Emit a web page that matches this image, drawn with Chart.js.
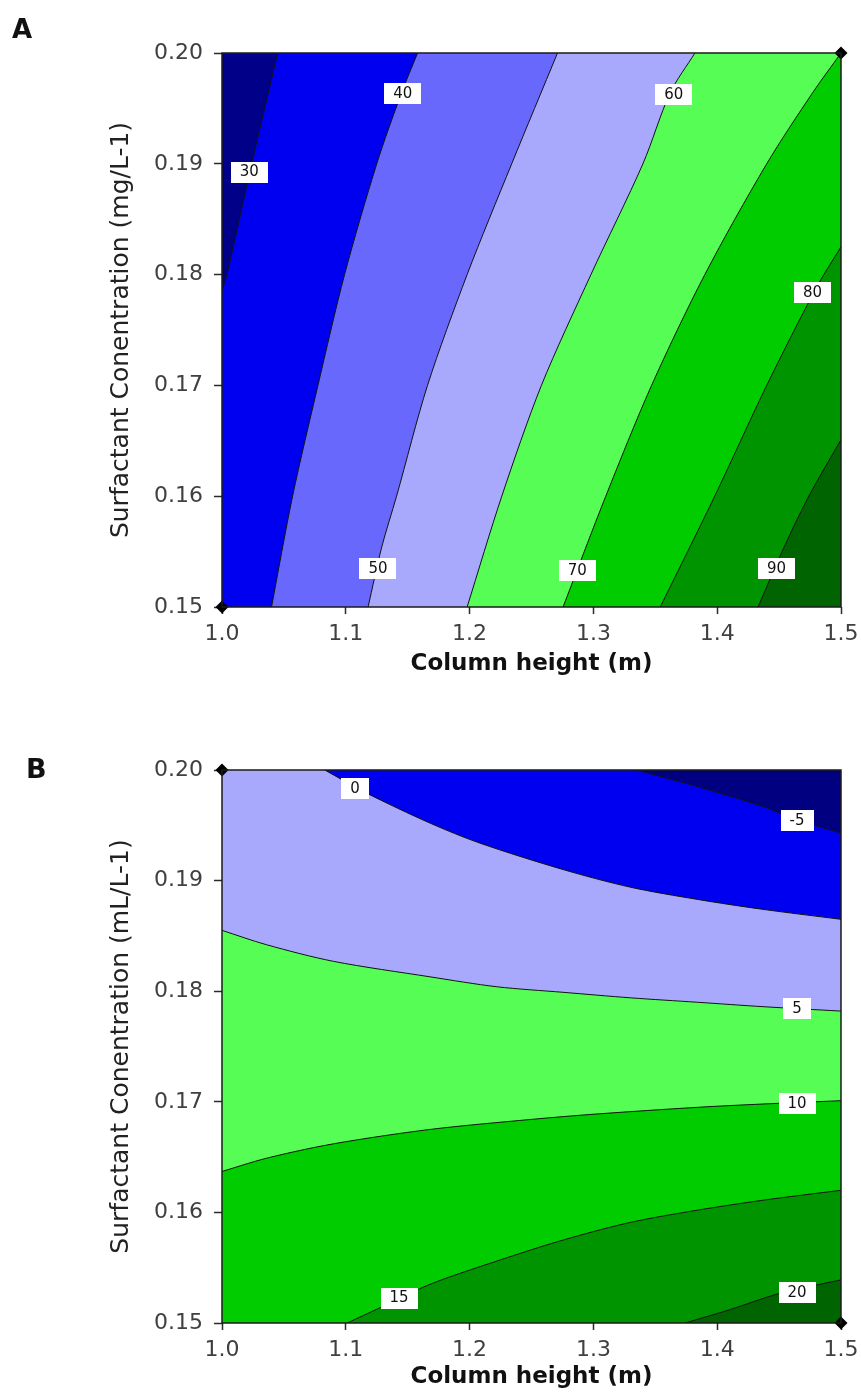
<!DOCTYPE html>
<html>
<head>
<meta charset="utf-8">
<script src="https://cdn.jsdelivr.net/npm/chart.js@4.4.1/dist/chart.umd.min.js"></script>
<style>
  html, body { margin: 0; padding: 0; background: #fff; }
  body { width: 861px; height: 1394px; position: relative; overflow: hidden; font-family: 'DejaVu Sans', Verdana, sans-serif; }
  canvas { position: absolute; left: 0; }
  .tag { position: absolute; line-height: 1; color: #111; font-weight: bold; }
</style>
</head>
<body>
<canvas id="chartA" style="top:0" width="861" height="690"></canvas>
<canvas id="chartB" style="top:690px" width="861" height="704"></canvas>
<div class="tag" style="left:12px; top:16px; font-size:26px;">A</div>
<div class="tag" style="left:26px; top:755px; font-size:27px;">B</div>
<script>
const heightTicks = [1.0, 1.1, 1.2, 1.3, 1.4, 1.5];
const heightTickLabels = ['1.0', '1.1', '1.2', '1.3', '1.4', '1.5'];
const concTicks = [0.15, 0.16, 0.17, 0.18, 0.19, 0.20];
const concTickLabels = ['0.15', '0.16', '0.17', '0.18', '0.19', '0.20'];

// Panel A contours [height, concentration], each traced from the top/right edge downwards
const levelsA = [30, 40, 50, 60, 70, 80, 90];
const a30 = [[1.045, 0.20], [1.024, 0.19], [1.004, 0.18], [1.0, 0.1786]];
const a40 = [[1.158, 0.20], [1.145, 0.1964], [1.125, 0.19], [1.099, 0.18], [1.0775, 0.17], [1.057, 0.16], [1.040, 0.15]];
const a50 = [[1.271, 0.20], [1.234, 0.19], [1.198, 0.18], [1.166, 0.17], [1.141, 0.16], [1.129, 0.1554], [1.118, 0.15]];
const a60 = [[1.382, 0.20], [1.362, 0.1964], [1.340, 0.19], [1.298, 0.18], [1.258, 0.17], [1.226, 0.16], [1.198, 0.15]];
const a70 = [[1.5, 0.20], [1.477, 0.1964], [1.440, 0.19], [1.390, 0.18], [1.347, 0.17], [1.310, 0.16], [1.2755, 0.15]];
const a80 = [[1.5, 0.1825], [1.481, 0.1790], [1.440, 0.17], [1.398, 0.16], [1.354, 0.15]];
const a90 = [[1.5, 0.1651], [1.474, 0.16], [1.454, 0.1554], [1.433, 0.15]];
const labelAtA = [[1.022, 0.1893], [1.146, 0.1964], [1.126, 0.1535], [1.365, 0.1963], [1.287, 0.1533], [1.477, 0.1784], [1.448, 0.1535]];
const bandColorsA = ['#000088', '#0000f0', '#6868fc', '#a8a8fc', '#55fd55', '#00cc00', '#009400', '#006400'];
const designA = [[1.0, 0.15], [1.5, 0.20]];

// Panel B contours, each traced from left to right
const levelsB = [-5, 0, 5, 10, 15, 20];
const bm5 = [[1.335, 0.20], [1.384, 0.1985], [1.437, 0.1967], [1.464, 0.1955], [1.5, 0.1943]];
const b0 = [[1.083, 0.20], [1.117, 0.1979], [1.168, 0.1952], [1.208, 0.1934], [1.2755, 0.1910], [1.330, 0.1894], [1.384, 0.1883], [1.437, 0.1874], [1.5, 0.1865]];
const b5 = [[1.0, 0.1855], [1.036, 0.1842], [1.090, 0.1827], [1.168, 0.1813], [1.222, 0.1804], [1.2755, 0.1799], [1.330, 0.1794], [1.384, 0.1790], [1.437, 0.1786], [1.5, 0.1782]];
const b10 = [[1.0, 0.1637], [1.036, 0.1649], [1.090, 0.1662], [1.168, 0.1675], [1.249, 0.1684], [1.303, 0.1689], [1.384, 0.1695], [1.437, 0.1698], [1.5, 0.1701]];
const b15 = [[1.101, 0.15], [1.130, 0.1515], [1.168, 0.1535], [1.222, 0.1556], [1.2755, 0.1575], [1.330, 0.1591], [1.384, 0.1602], [1.437, 0.1611], [1.5, 0.1620]];
const b20 = [[1.374, 0.15], [1.410, 0.1512], [1.451, 0.1527], [1.5, 0.1539]];
const labelAtB = [[1.4645, 0.1955], [1.1074, 0.1984], [1.4645, 0.1785], [1.4645, 0.1699], [1.143, 0.1523], [1.4645, 0.1528]];
const bandColorsB = ['#000080', '#0000f0', '#a8a8fc', '#55fd55', '#00cc00', '#009400', '#006400'];
const designB = [[1.0, 0.20], [1.5, 0.15]];

const X_MIN = heightTicks[0], X_MAX = heightTicks[heightTicks.length - 1];
const Y_MIN = concTicks[0], Y_MAX = concTicks[concTicks.length - 1];
const corners = [[X_MIN, Y_MIN], [X_MAX, Y_MIN], [X_MAX, Y_MAX], [X_MIN, Y_MAX]];
const SMOOTH = 0.3;

Chart.defaults.font.family = "'DejaVu Sans', Verdana, sans-serif";

// position of a frame point, counted anticlockwise from the bottom-left corner (0..4)
function edgePos([x, y]) {
  const eps = 1e-9;
  if (Math.abs(y - Y_MIN) < eps) return (x - X_MIN) / (X_MAX - X_MIN);
  if (Math.abs(x - X_MAX) < eps) return 1 + (y - Y_MIN) / (Y_MAX - Y_MIN);
  if (Math.abs(y - Y_MAX) < eps) return 2 + (X_MAX - x) / (X_MAX - X_MIN);
  return 3 + (Y_MAX - y) / (Y_MAX - Y_MIN);
}

// closes a contour into the area lying on its left, running anticlockwise round the frame.
// Doubled vertices keep the frame part straight when the line is drawn with tension.
function regionLeftOf(path) {
  const pts = path.slice();
  pts.push(path[path.length - 1]);
  const t = edgePos(path[path.length - 1]);
  let stop = edgePos(path[0]);
  if (stop <= t) stop += 4;
  for (let k = Math.floor(t) + 1; k < stop; k++) pts.push(corners[k % 4], corners[k % 4]);
  return pts.map(([x, y]) => ({x, y}));
}

const plotFrame = {
  id: 'plotFrame',
  afterDatasetsDraw(chart) {
    const {ctx, chartArea: a} = chart;
    ctx.save();
    ctx.strokeStyle = '#1b1b1b';
    ctx.lineWidth = 1.5;
    ctx.strokeRect(a.left, a.top, a.right - a.left, a.bottom - a.top);
    ctx.restore();
  }
};

const contourLabels = {
  id: 'contourLabels',
  afterDatasetsDraw(chart, args, opts) {
    const {ctx, scales: {x, y}} = chart;
    ctx.save();
    ctx.font = "15px 'DejaVu Sans'";
    ctx.textAlign = 'center';
    ctx.textBaseline = 'middle';
    opts.levels.forEach((lv, i) => {
      const px = x.getPixelForValue(opts.at[i][0]);
      const py = y.getPixelForValue(opts.at[i][1]);
      const text = String(lv);
      const w = Math.round(ctx.measureText(text).width + 18);
      ctx.fillStyle = '#fff';
      ctx.fillRect(Math.round(px - w / 2), Math.round(py - 10), w, 21);
      ctx.fillStyle = '#111';
      ctx.fillText(text, px, py + 1);
    });
    ctx.restore();
  }
};

function drawPanel(canvasId, p) {
  const datasets = [];
  datasets.push({
    data: p.design.map(([x, y]) => ({x, y})),
    showLine: false, pointStyle: 'rectRot', pointRadius: 6.5,
    pointBackgroundColor: '#000', pointBorderColor: '#000', pointBorderWidth: 0, clip: false
  });
  p.paths.forEach(path => datasets.push({
    data: path.map(([x, y]) => ({x, y})),
    borderColor: '#121212', borderWidth: 1, pointRadius: 0, fill: false, tension: SMOOTH
  }));
  // higher bands first so they sit on top of the lower ones
  for (let i = p.paths.length - 1; i >= 0; i--) {
    const path = p.highOnLeft ? p.paths[i] : p.paths[i].slice().reverse();
    datasets.push({
      data: regionLeftOf(path), backgroundColor: p.colors[i + 1],
      borderWidth: 0, pointRadius: 0, fill: 'shape', clip: false, tension: SMOOTH
    });
  }
  datasets.push({
    data: corners.map(([x, y]) => ({x, y})), backgroundColor: p.colors[0],
    borderWidth: 0, pointRadius: 0, fill: 'shape', clip: false, tension: 0
  });

  new Chart(document.getElementById(canvasId), {
    type: 'line',
    data: { datasets },
    plugins: [plotFrame, contourLabels],
    options: {
      responsive: false,
      animation: false,
      events: [],
      layout: { padding: { top: p.top, right: 20, left: 0, bottom: 0 } },
      plugins: {
        legend: { display: false },
        tooltip: { enabled: false },
        contourLabels: { levels: p.levels, at: p.labelAt }
      },
      scales: {
        x: {
          type: 'linear', min: X_MIN, max: X_MAX,
          afterBuildTicks: s => { s.ticks = heightTicks.map(v => ({value: v})); },
          afterFit: s => { s.height = p.xAxisHeight; s.paddingLeft = 0; s.paddingRight = 0; },
          ticks: {
            callback: (v, i) => heightTickLabels[i],
            color: '#404040', font: { size: 22 }, padding: 7, maxRotation: 0, autoSkip: false
          },
          grid: { drawOnChartArea: false, tickLength: 7, tickColor: '#2a2a2a', tickWidth: 1.5 },
          border: { display: false },
          title: {
            display: true, text: 'Column height (m)', color: '#111',
            font: { size: 23, weight: 'bold' }, padding: { top: 0, bottom: p.xTitlePad }
          }
        },
        y: {
          type: 'linear', min: Y_MIN, max: Y_MAX,
          afterBuildTicks: s => { s.ticks = concTicks.map(v => ({value: v})); },
          afterFit: s => { s.width = 222; s.paddingTop = 0; s.paddingBottom = 0; },
          ticks: {
            callback: (v, i) => concTickLabels[i],
            color: '#404040', font: { size: 22 }, padding: 11, autoSkip: false
          },
          grid: { drawOnChartArea: false, tickLength: 8, tickColor: '#2a2a2a', tickWidth: 1.5 },
          border: { display: false },
          title: {
            display: true, text: p.yTitle, color: '#222',
            font: { size: 25 }, padding: { top: 106, bottom: 0 }
          }
        }
      }
    }
  });
}

drawPanel('chartA', {
  paths: [a30, a40, a50, a60, a70, a80, a90], highOnLeft: true,
  levels: levelsA, labelAt: labelAtA, colors: bandColorsA, design: designA,
  yTitle: 'Surfactant Conentration (mg/L-1)', top: 53, xAxisHeight: 83, xTitlePad: 12
});
drawPanel('chartB', {
  paths: [bm5, b0, b5, b10, b15, b20], highOnLeft: false,
  levels: levelsB, labelAt: labelAtB, colors: bandColorsB, design: designB,
  yTitle: 'Surfactant Conentration (mL/L-1)', top: 80, xAxisHeight: 71, xTitlePad: 3
});
</script>
</body>
</html>
